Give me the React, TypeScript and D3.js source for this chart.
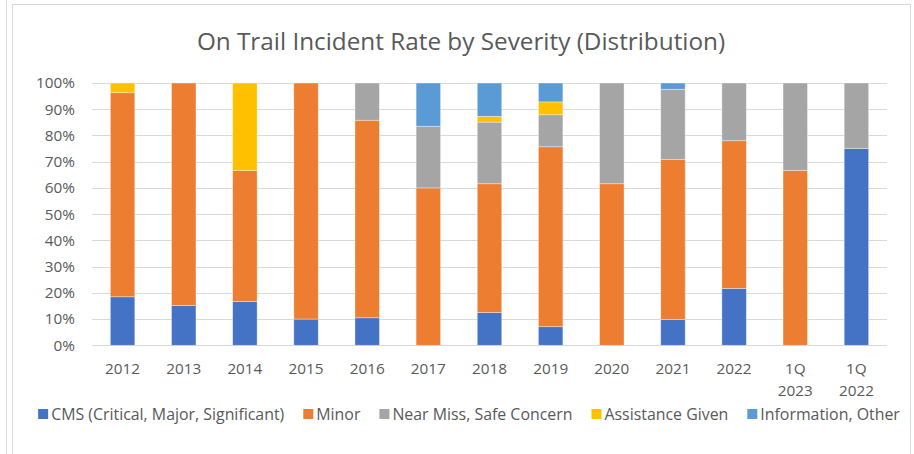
import { useEffect, useRef } from 'react';
import * as d3 from 'd3';

const categories = ['2012', '2013', '2014', '2015', '2016', '2017', '2018', '2019', '2020', '2021', '2022', '1Q 2023', '1Q 2022'];
const cms = [18.5, 15.2, 16.7, 10, 10.5, 0, 12.5, 7.1, 0, 9.8, 21.7, 0, 75];
const minor = [77.8, 84.8, 50, 90, 75.3, 60, 49.1, 68.6, 61.6, 61.0, 56.3, 66.7, 0];
const nearMiss = [0, 0, 0, 0, 14.2, 23.5, 23.5, 12.2, 38.4, 26.8, 22.0, 33.3, 25];
const assistance = [3.7, 0, 33.3, 0, 0, 0, 2.2, 4.9, 0, 0, 0, 0, 0];
const information = [0, 0, 0, 0, 0, 16.5, 12.7, 7.2, 0, 2.4, 0, 0, 0];
const seriesNames = ['CMS (Critical, Major, Significant)', 'Minor', 'Near Miss, Safe Concern', 'Assistance Given', 'Information, Other'];
const yTicks = [0, 10, 20, 30, 40, 50, 60, 70, 80, 90, 100];

const colors = ['#4472C4', '#ED7D31', '#A5A5A5', '#FFC000', '#5B9BD5'];
const FONT = '"Open Sans", sans-serif';
const TEXT = '#595959';

export default function App() {
  const svgRef = useRef<SVGSVGElement>(null);
  const width = 914;
  const height = 454;

  useEffect(() => {
    document.body.style.margin = '0';
    if (!svgRef.current) return;
    const svg = d3.select(svgRef.current);
    svg.selectAll('*').remove();

    // frame
    svg.append('line')
      .attr('x1', 6.5).attr('x2', 6.5).attr('y1', 0).attr('y2', height)
      .attr('stroke', '#d9d9d9');
    svg.append('rect')
      .attr('x', 12.5).attr('y', 4.5).attr('width', 898).attr('height', 470)
      .attr('fill', '#fff').attr('stroke', '#d9d9d9');

    svg.append('text')
      .attr('x', 461).attr('y', 50)
      .attr('text-anchor', 'middle')
      .attr('font-family', FONT).attr('font-size', 24.3).attr('fill', TEXT)
      .text('On Trail Incident Rate by Severity (Distribution)');

    const x = d3.scaleBand<string>()
      .domain(categories)
      .range([92, 887])
      .paddingInner(0.6)
      .paddingOuter(0.3);

    const y = d3.scaleLinear().domain([0, 100]).range([345.3, 83]);

    // gridlines
    svg.append('g')
      .selectAll('line')
      .data(yTicks)
      .join('line')
      .attr('x1', 92).attr('x2', 887)
      .attr('y1', d => Math.round(y(d)) + 0.5)
      .attr('y2', d => Math.round(y(d)) + 0.5)
      .attr('stroke', '#d9d9d9')
      .attr('stroke-width', 1.2);

    svg.append('g')
      .selectAll('text')
      .data(yTicks)
      .join('text')
      .attr('x', 75)
      .attr('y', d => y(d))
      .attr('dy', '0.35em')
      .attr('text-anchor', 'end')
      .attr('font-family', FONT).attr('font-size', 15.3).attr('fill', TEXT)
      .text(d => `${d}%`);

    const rows = categories.map((c, i) => ({
      cat: c,
      s0: cms[i], s1: minor[i], s2: nearMiss[i], s3: assistance[i], s4: information[i],
    }));
    const stack = d3.stack<any>().keys(['s0', 's1', 's2', 's3', 's4']);
    const layers = stack(rows);

    svg.append('g')
      .selectAll('g')
      .data(layers)
      .join('g')
      .attr('fill', (_, i) => colors[i])
      .selectAll('rect')
      .data(d => d.filter(p => p[1] - p[0] > 0))
      .join('rect')
      .attr('x', d => x(d.data.cat)!)
      .attr('width', x.bandwidth())
      .attr('y', d => y(d[1]))
      .attr('height', d => y(d[0]) - y(d[1]))
      .attr('stroke', '#fff')
      .attr('stroke-opacity', 0.45)
      .attr('stroke-width', 0.8);

    // x labels
    const xl = svg.append('g')
      .selectAll('text')
      .data(categories)
      .join('text')
      .attr('x', d => x(d)! + x.bandwidth() / 2)
      .attr('y', 374)
      .attr('text-anchor', 'middle')
      .attr('font-family', FONT).attr('font-size', 15.3).attr('fill', TEXT);
    xl.each(function (d) {
      const parts = d.split(' ');
      const t = d3.select(this);
      parts.forEach((p, j) => {
        t.append('tspan')
          .attr('x', x(d)! + x.bandwidth() / 2)
          .attr('dy', j === 0 ? 0 : 21.5)
          .text(p);
      });
    });

    // legend
    const legend = svg.append('g');
    const items = legend.selectAll('g')
      .data(seriesNames)
      .join('g');
    items.append('rect')
      .attr('width', 10).attr('height', 10)
      .attr('y', -5)
      .attr('fill', (_, i) => colors[i]);
    items.append('text')
      .attr('x', 13)
      .attr('dy', '0.35em')
      .attr('font-family', FONT).attr('font-size', 15.9).attr('fill', TEXT)
      .text(d => d);
    const widths: number[] = [];
    items.each(function () {
      const t = d3.select(this).select('text').node() as SVGTextElement;
      widths.push(13 + t.getComputedTextLength());
    });
    const gap = 19;
    const total = d3.sum(widths) + gap * (widths.length - 1);
    let cx = 469 - total / 2;
    items.attr('transform', (_, i) => {
      const tx = cx;
      cx += widths[i] + gap;
      return `translate(${tx},414)`;
    });
  }, []);

  return <svg ref={svgRef} width={width} height={height} style={{ display: 'block' }} />;
}
